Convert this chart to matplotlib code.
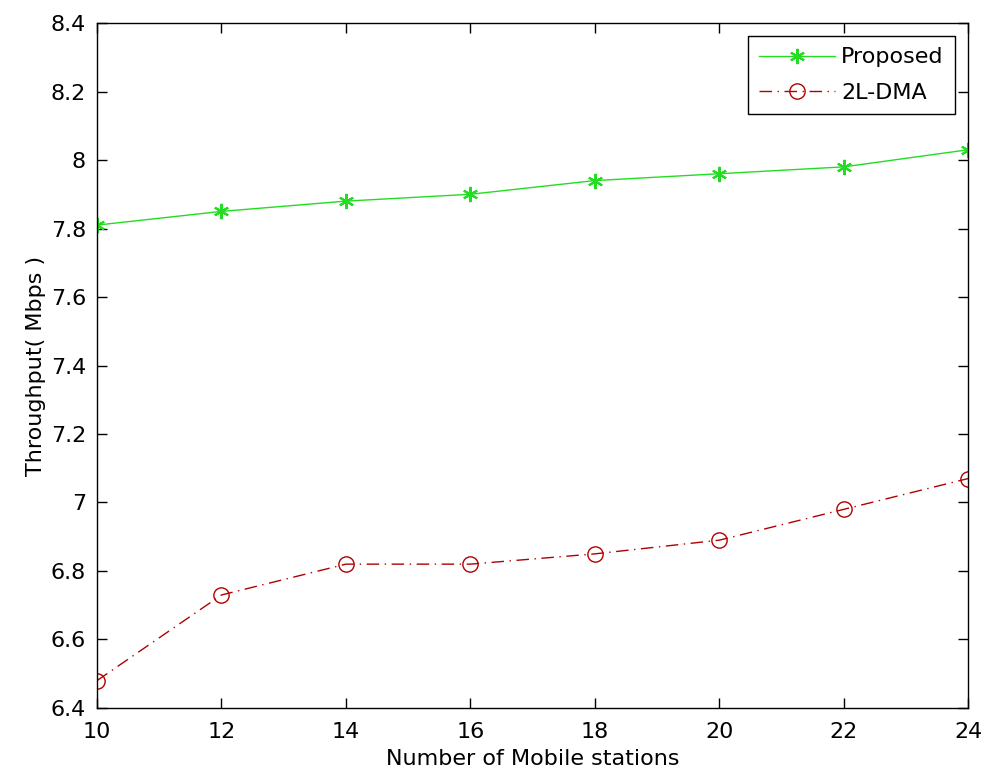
import matplotlib.pyplot as plt

# Throughput vs number of mobile stations
stations = [10, 12, 14, 16, 18, 20, 22, 24]
proposed = [7.81, 7.85, 7.88, 7.90, 7.94, 7.96, 7.98, 8.03]
dma_2l = [6.48, 6.73, 6.82, 6.82, 6.85, 6.89, 6.98, 7.07]

plt.rcParams['font.family'] = ['DejaVu Sans']

fig = plt.figure(figsize=(9.85, 7.78), dpi=100)
ax = fig.add_axes([0.0985, 0.09, 0.8845, 0.8804])

ax.plot(stations, proposed, color='#22dd22', linestyle='-', linewidth=1,
        marker=(6, 2, 0), markersize=11, markeredgewidth=1.5, label='Proposed')
ax.plot(stations, dma_2l, color='#b00000', linestyle=(0, (9, 4, 1, 4)), linewidth=1,
        marker='o', markersize=11, markerfacecolor='none', markeredgewidth=1,
        label='2L-DMA')

ax.set_xlim(10, 24)
ax.set_ylim(6.4, 8.4)
ax.set_xticks(stations)
ax.set_yticks([6.4, 6.6, 6.8, 7.0, 7.2, 7.4, 7.6, 7.8, 8.0, 8.2, 8.4])
ax.set_yticklabels(['6.4', '6.6', '6.8', '7', '7.2', '7.4', '7.6', '7.8', '8', '8.2', '8.4'])
ax.tick_params(direction='in', length=7, width=1, labelsize=16, top=True, right=True)
ax.tick_params(axis='x', pad=10)
ax.tick_params(axis='y', pad=8)
for s in ax.spines.values():
    s.set_linewidth(1)

ax.set_xlabel('Number of Mobile stations', fontsize=16, labelpad=5)
ax.set_ylabel('Throughput( Mbps )', fontsize=16, labelpad=3)

leg = ax.legend(loc='upper right', fontsize=16, fancybox=False, framealpha=1,
                edgecolor='black', borderaxespad=0.6, handlelength=3.4,
                handletextpad=0.3, borderpad=0.5, labelspacing=0.7)
leg.get_frame().set_linewidth(1)

plt.savefig('out.png', dpi=100)
